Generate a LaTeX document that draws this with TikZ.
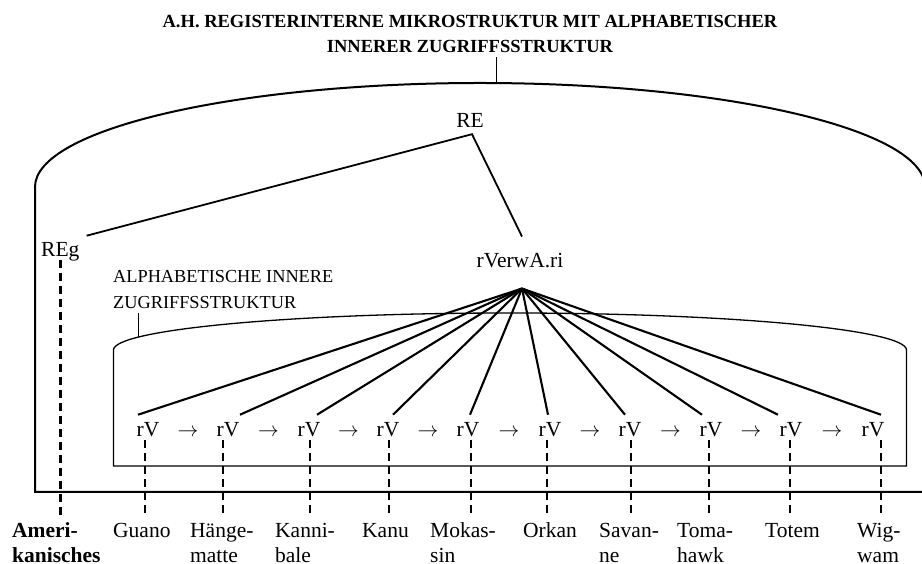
\documentclass[tikz,border=0pt]{standalone}
\usepackage{fontspec}
\setmainfont{Liberation Serif}
\usetikzlibrary{calc}
% two-line word label whose baseline is that of its first line
\newcommand\stackword[2]{\begin{tabular}[t]{@{}l@{}}#1\\#2\end{tabular}}

\begin{document}
\begin{tikzpicture}[x=1pt,y=1pt,
  txt/.style={inner sep=0pt, font=\fontsize{21.5}{25}\selectfont},
  lab/.style={txt, anchor=base west},
  small/.style={inner sep=0pt, font=\fontsize{18.3}{26}\selectfont},
  heading/.style={inner sep=0pt, font=\fontsize{18.5}{25}\selectfont\bfseries},
  outerline/.style={line width=2pt},
  innerline/.style={line width=1.3pt},
  tickline/.style={line width=1pt},
  branch/.style={line width=1.8pt},
  fanline/.style={line width=2.1pt},
  wordlink/.style={line width=2.6pt, dash pattern=on 8pt off 5pt},
]
\useasboundingbox (0,0) rectangle (922,564);
\clip (0,0) rectangle (922,564);

% outer frame: register entry
\draw[outerline] (35,72) -- (35,377)
  arc[start angle=180, end angle=0, x radius=445, y radius=104]
  -- (925,72) -- cycle;
\coordinate (outertop) at (496,481);

% inner frame: alphabetical access structure
\draw[innerline] (113.5,98) -- (113.5,214)
  arc[start angle=180, end angle=0, x radius=396.5, y radius=37]
  -- (906.5,98) -- cycle;
\coordinate (innertop) at (138,227);

% headings
\node[heading, anchor=base] (title) at (470,536)
  {\begin{tabular}[t]{@{}c@{}}A.H. REGISTERINTERNE MIKROSTRUKTUR MIT ALPHABETISCHER\\INNERER ZUGRIFFSSTRUKTUR\end{tabular}};
\draw[tickline] (outertop) -- ([shift={(26,3.5)}]title.south);

\node[small, anchor=base west] (alpha) at (113,281)
  {\begin{tabular}[t]{@{}l@{}}ALPHABETISCHE INNERE\\ZUGRIFFSSTRUKTUR\end{tabular}};
\draw[tickline] (innertop) -- ([shift={(25,3.8)}]alpha.south west);

% tree
\node[txt, anchor=base] (re) at (470,436) {RE};
\node[txt, anchor=base west] (reg) at (41,307) {REg};
\node[txt, anchor=base] (rva) at (520,296) {rVerwA.ri};
\coordinate (reapex) at ([shift={(2,-6)}]re.south);
\coordinate (fanapex) at ([shift={(2,-20)}]rva.south);
\draw[branch] ([shift={(7,7)}]reg.north east) -- (reapex) -- ([shift={(2,17)}]rva.north);

% chain of access elements
\foreach \i/\x/\fe in {1/148/-10, 2/228/12, 3/309/8, 4/388/5, 5/468/2,
                       6/550/-2, 7/630/-5, 8/711/-9, 9/791/-13, 10/873/8}{
  \node[txt, anchor=base] (rv\i) at (\x,127) {rV};
  \draw[fanline] (fanapex) -- ([shift={(\fe,8)}]rv\i.north);
}
\foreach \i/\x in {1/188, 2/268.5, 3/348.5, 4/428, 5/509, 6/590, 7/670.5, 8/751, 9/832}{
  \node[txt, anchor=base] (arr\i) at (\x,127) {$\rightarrow$};
}

% lemma labels
\node[lab] (lab0) at (12,26) {\stackword{\textbf{Ameri-}}{\textbf{kanisches}}};
\foreach \i/\x/\a/\b in {1/113/Guano/, 2/190/Hänge-/matte, 3/275/Kanni-/bale,
                         4/362/Kanu/, 5/430/Mokas-/sin, 6/523/Orkan/,
                         7/599/Savan-/ne, 8/677/Toma-/hawk, 9/765/Totem/,
                         10/857/Wig-/wam}{
  \node[lab] (lab\i) at (\x,26) {\stackword{\a}{\b}};
}

% dashed links to the lemmata
\draw[wordlink] ($(reg.base)+(0,-3)$) -- ($(reg.base |- lab0.north)+(0,4.5)$);
\foreach \i/\dx in {1/-3, 2/-5, 3/1, 4/1, 5/3, 6/-3, 7/1, 8/-2, 9/-1, 10/8}{
  \draw[wordlink] ($(rv\i.base)+(\dx,-3)$) -- ($(rv\i.base |- lab\i.north)+(\dx,4.5)$);
}
\end{tikzpicture}
\end{document}
